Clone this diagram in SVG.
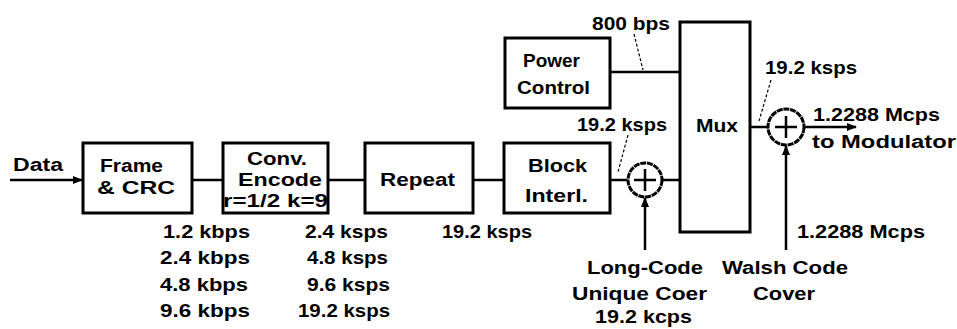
<svg xmlns="http://www.w3.org/2000/svg" width="957" height="329" viewBox="0 0 957 329">
<style>
text{font-family:"Liberation Sans",Arial,sans-serif;font-weight:bold;font-size:18px;fill:#000}
.box{fill:#fff;stroke:#000;stroke-width:3}
.ln{fill:none;stroke:#000;stroke-width:2.5}
.dash{fill:none;stroke:#000;stroke-width:1.2;stroke-dasharray:3,2}
.sum{fill:#fff;stroke:#000;stroke-width:3;stroke-dasharray:6,0.8}
.plus{stroke:#000;stroke-width:2.5}
</style>
<defs>
<marker id="ah" markerWidth="10" markerHeight="8" refX="9" refY="4" orient="auto" markerUnits="userSpaceOnUse">
<path d="M0,0 L10,4 L0,8 z" fill="#000"/>
</marker>
</defs>
<g id="connectors">
<line class="ln" x1="10" y1="180" x2="82" y2="180" marker-end="url(#ah)"/>
<line class="ln" x1="192" y1="180" x2="223" y2="180"/>
<line class="ln" x1="328" y1="180" x2="365" y2="180"/>
<line class="ln" x1="473" y1="180" x2="504" y2="180"/>
<line class="ln" x1="610" y1="180" x2="627" y2="180"/>
<line class="ln" x1="663" y1="180" x2="680" y2="180"/>
<line class="ln" x1="610" y1="72" x2="680" y2="72"/>
<line class="ln" x1="750" y1="127" x2="768" y2="127"/>
<line class="ln" x1="804" y1="127" x2="856" y2="127" marker-end="url(#ah)"/>
<line class="ln" x1="645" y1="250" x2="645" y2="198" marker-end="url(#ah)"/>
<line class="ln" x1="786" y1="250" x2="786" y2="146" marker-end="url(#ah)"/>
<line class="dash" x1="634" y1="34" x2="643" y2="70"/>
<line class="dash" x1="771" y1="80" x2="759" y2="121"/>
<line class="dash" x1="628" y1="135" x2="618" y2="172"/>
</g>
<g id="data-label"><text x="13" y="171" textLength="50" lengthAdjust="spacingAndGlyphs">Data</text></g>
<g id="frame-crc">
<rect class="box" x="83" y="143" width="109" height="70"/>
<text x="100" y="172" textLength="63" lengthAdjust="spacingAndGlyphs">Frame</text>
<text x="97" y="194" textLength="78" lengthAdjust="spacingAndGlyphs">&amp; CRC</text>
</g>
<g id="conv-encode">
<rect class="box" x="223" y="143" width="105" height="70"/>
<text x="247" y="165" textLength="60" lengthAdjust="spacingAndGlyphs">Conv.</text>
<text x="238" y="186" textLength="84" lengthAdjust="spacingAndGlyphs">Encode</text>
<text x="223" y="207" textLength="105" lengthAdjust="spacingAndGlyphs">r=1/2 k=9</text>
</g>
<g id="repeat">
<rect class="box" x="365" y="143" width="108" height="70"/>
<text x="380" y="186" textLength="75" lengthAdjust="spacingAndGlyphs">Repeat</text>
</g>
<g id="block-interl">
<rect class="box" x="504" y="143" width="106" height="70"/>
<text x="528" y="172" textLength="59" lengthAdjust="spacingAndGlyphs">Block</text>
<text x="525" y="202" textLength="63" lengthAdjust="spacingAndGlyphs">Interl.</text>
</g>
<g id="power-control">
<rect class="box" x="505" y="38" width="105" height="70"/>
<text x="523" y="67" textLength="57" lengthAdjust="spacingAndGlyphs">Power</text>
<text x="517" y="94" textLength="73" lengthAdjust="spacingAndGlyphs">Control</text>
</g>
<g id="mux">
<rect class="box" x="680" y="22" width="70" height="210"/>
<text x="696" y="132" textLength="42" lengthAdjust="spacingAndGlyphs">Mux</text>
</g>
<g id="sum1">
<circle class="sum" cx="645" cy="180" r="17"/>
<line class="plus" x1="634" y1="180" x2="656" y2="180"/>
<line class="plus" x1="645" y1="169" x2="645" y2="191"/>
</g>
<g id="sum2">
<circle class="sum" cx="786" cy="127" r="18"/>
<line class="plus" x1="775" y1="127" x2="797" y2="127"/>
<line class="plus" x1="786" y1="116" x2="786" y2="138"/>
</g>
<g id="labels">
<text x="592" y="30" textLength="78" lengthAdjust="spacingAndGlyphs">800 bps</text>
<text x="765" y="74" textLength="92" lengthAdjust="spacingAndGlyphs">19.2 ksps</text>
<text x="813" y="121" textLength="127" lengthAdjust="spacingAndGlyphs">1.2288 Mcps</text>
<text x="812" y="148" textLength="144" lengthAdjust="spacingAndGlyphs">to Modulator</text>
<text x="577" y="131" textLength="90" lengthAdjust="spacingAndGlyphs">19.2 ksps</text>
<text x="163" y="238" textLength="87" lengthAdjust="spacingAndGlyphs">1.2 kbps</text>
<text x="160" y="264" textLength="90" lengthAdjust="spacingAndGlyphs">2.4 kbps</text>
<text x="160" y="291" textLength="88" lengthAdjust="spacingAndGlyphs">4.8 kbps</text>
<text x="160" y="317" textLength="90" lengthAdjust="spacingAndGlyphs">9.6 kbps</text>
<text x="305" y="238" textLength="83" lengthAdjust="spacingAndGlyphs">2.4 ksps</text>
<text x="307" y="264" textLength="81" lengthAdjust="spacingAndGlyphs">4.8 ksps</text>
<text x="307" y="291" textLength="83" lengthAdjust="spacingAndGlyphs">9.6 ksps</text>
<text x="298" y="317" textLength="92" lengthAdjust="spacingAndGlyphs">19.2 ksps</text>
<text x="442" y="238" textLength="90" lengthAdjust="spacingAndGlyphs">19.2 ksps</text>
<text x="797" y="238" textLength="128" lengthAdjust="spacingAndGlyphs">1.2288 Mcps</text>
<text x="587" y="274" textLength="116" lengthAdjust="spacingAndGlyphs">Long-Code</text>
<text x="572" y="300" textLength="135" lengthAdjust="spacingAndGlyphs">Unique Coer</text>
<text x="595" y="323" textLength="97" lengthAdjust="spacingAndGlyphs">19.2 kcps</text>
<text x="722" y="274" textLength="126" lengthAdjust="spacingAndGlyphs">Walsh Code</text>
<text x="753" y="300" textLength="62" lengthAdjust="spacingAndGlyphs">Cover</text>
</g>
</svg>
